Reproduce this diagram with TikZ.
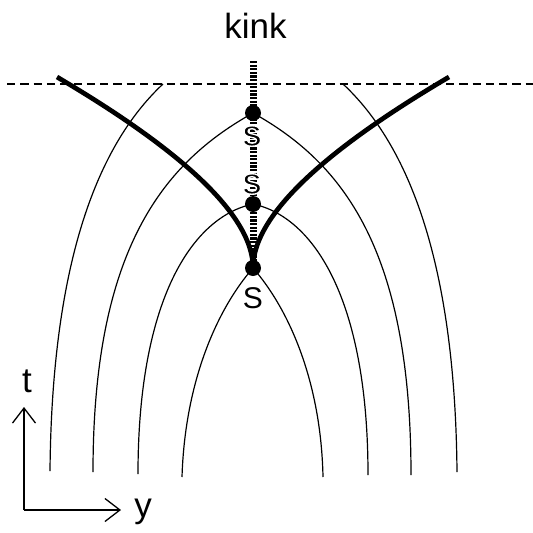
\documentclass[tikz,border=0pt]{standalone}
\usepackage{fontspec}
\setmainfont{Liberation Sans}
\usetikzlibrary{arrows.meta}
\newcommand{\haloS}{\special{pdf:code q 2 Tr 1 1 1 RG 1.4 w}S\special{pdf:code Q}}
\begin{document}
\begin{tikzpicture}[x=1pt,y=-1pt,
  thinline/.style={line width=1.2pt},
  thickline/.style={line width=4.7pt},
  ladder/.style={line width=7pt,dash pattern=on 2.2pt off 1.4pt},
  dashline/.style={line width=1.3pt,dash pattern=on 8.3pt off 5pt},
  dotmark/.style={circle,fill=black,inner sep=0pt,minimum size=16pt},
  axis/.style={line width=1.3pt,-{Straight Barb[length=15pt,width=23pt,line width=1.3pt]}},
  bigtext/.style={font=\fontsize{35}{40}\selectfont,inner sep=0pt,anchor=base},
  stext/.style={font=\fontsize{30}{34}\selectfont,inner sep=0pt,anchor=base},
  shalo/.style={font=\fontsize{29}{33}\selectfont\bfseries,inner sep=0pt,anchor=base}]
\useasboundingbox (0,0) rectangle (533,533);
% key points
\coordinate (top) at (253,113);
\coordinate (mid) at (253,204);
\coordinate (cusp) at (253,268);
\coordinate (ltop) at (253,61);
% dashed horizontal line
\coordinate (dl) at (7,84);
\coordinate (dr) at (533,84);
\draw[dashline] (dl) -- (dr);
% thin curves
\coordinate (aL) at (163,84); \coordinate (aLb) at (50,471);
\coordinate (aR) at (343,84); \coordinate (aRb) at (457,472);
\draw[thinline] (aL) .. controls (103,140) and (52,250) .. (aLb);
\draw[thinline] (aR) .. controls (403,140) and (455,250) .. (aRb);
\coordinate (bLb) at (93,472); \coordinate (bRb) at (411,475);
\draw[thinline] (top) .. controls (163,163) and (93,250) .. (bLb);
\draw[thinline] (top) .. controls (343,163) and (411,250) .. (bRb);
\coordinate (cLb) at (138,474); \coordinate (cRb) at (368,475);
\draw[thinline] (mid) .. controls (192,217) and (138,300) .. (cLb);
\draw[thinline] (mid) .. controls (314,217) and (368,300) .. (cRb);
\coordinate (dLb) at (182,477); \coordinate (dRb) at (323,477);
\draw[thinline] (cusp) .. controls (218,308) and (185,380) .. (dLb);
\draw[thinline] (cusp) .. controls (288,308) and (321,380) .. (dRb);
% thick curves
\coordinate (kL) at (57,77); \coordinate (kR) at (449,77);
\draw[thickline] (kL) .. controls (169,143) and (253,211) .. (cusp);
\draw[thickline] (kR) .. controls (337,143) and (253,211) .. (cusp);
% ladder
\draw[ladder] (ltop) -- (cusp);
% S labels over the ladder (white outline)
\node[shalo] (s1) at (252,146) {\haloS};
\node[shalo] (s2) at (252,194) {\haloS};
\node[stext] (s3) at (253,308) {S};
% dots
\node[dotmark] (d1) at (top) {};
\node[dotmark] (d2) at (mid) {};
\node[dotmark] (d3) at (cusp) {};
% texts
\node[bigtext] (kink) at (255.5,38) {kink};
% axes
\coordinate (o) at (24,510);
\coordinate (tend) at (24,407);
\coordinate (yend) at (121,510);
\draw[axis] (o) -- (tend);
\draw[axis] (o) -- (yend);
\node[bigtext] (tl) at (27,392) {t};
\node[bigtext] (yl) at (143,517) {y};
\end{tikzpicture}
\end{document}
